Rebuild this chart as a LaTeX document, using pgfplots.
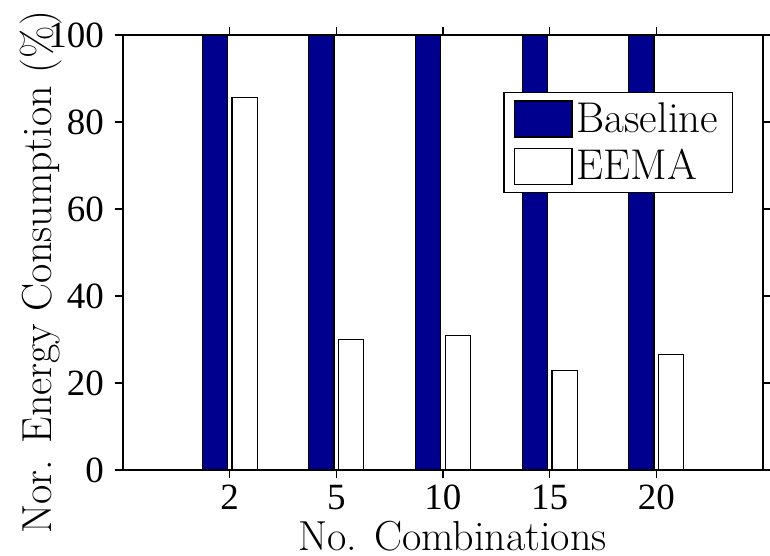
\documentclass[border=0pt]{standalone}
\usepackage{fontspec}
\usepackage{pgfplots}
\pgfplotsset{compat=1.18}
\newfontfamily\timesfont{Liberation Serif}
\definecolor{navyblue}{RGB}{0,0,143}
\begin{document}
\begin{tikzpicture}
\begin{axis}[
  scale only axis, width=320pt, height=217.5pt,
  xmin=0, xmax=6, ymin=0, ymax=100,
  xtick={1,2,3,4,5}, xticklabels={2,5,10,15,20},
  ytick={0,20,40,60,80,100},
  tick align=outside, major tick length=4pt,
  axis line style={line width=0.75pt},
  every tick/.style={black, line width=0.75pt},
  tick label style={font=\timesfont\fontsize{18.5}{18.5}\selectfont},
  yticklabel style={xshift=-2pt},
  /pgf/number format/assume math mode=true,
  label style={font=\fontsize{21}{24}\selectfont},
  xlabel={No. Combinations},
  ylabel={Nor. Energy Consumption (\%)},
  xlabel style={at={(axis description cs:0.5148,-0.184)}, anchor=base},
  ylabel style={at={(axis description cs:-0.1114,0.454)}, anchor=base},
  legend cell align=left,
  legend style={at={(axis description cs:0.953,0.869)}, anchor=north east,
    font=\fontsize{21.5}{24}\selectfont, draw=black, line width=0.6pt,
    inner xsep=5pt, inner ysep=3pt, row sep=3pt},
  legend image code/.code={\draw[#1] (0pt,-9pt) rectangle (28.7pt,9pt);},
]
\addplot[ybar, bar width=0.235, bar shift=-0.14, fill=navyblue, draw=black, line width=0.6pt]
  coordinates {(1,100) (2,100) (3,100) (4,100) (5,100)};
\addplot[ybar, bar width=0.235, bar shift=0.14, fill=white, draw=black, line width=0.6pt]
  coordinates {(1,85.6) (2,30.0) (3,31.0) (4,22.8) (5,26.5)};
\legend{Baseline, EEMA}
\end{axis}
\pgfresetboundingbox
\path ([xshift=-61.5pt,yshift=-43pt]current axis.south west) rectangle ([xshift=3.5pt,yshift=17.5pt]current axis.north east);
\end{tikzpicture}
\end{document}
